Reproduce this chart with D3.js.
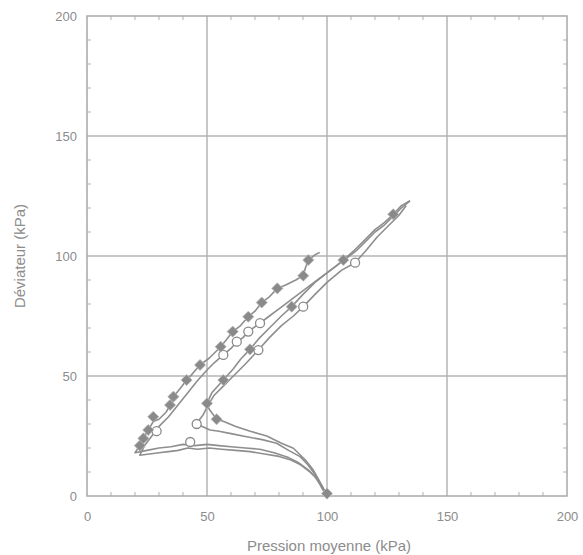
<!DOCTYPE html>
<html>
<head>
<meta charset="utf-8">
<script src="https://cdn.jsdelivr.net/npm/d3@7"></script>
<style>
  html, body { margin: 0; padding: 0; background: #fff; }
  svg { display: block; }
  text { font-family: "Liberation Sans", Arial, sans-serif; fill: #8c8c8c; }
</style>
</head>
<body>
<svg id="chart" width="583" height="555"></svg>
<script>
// Stress paths: mean pressure p (kPa) vs deviator q (kPa)
const xTicks = [0, 50, 100, 150, 200];
const yTicks = [0, 50, 100, 150, 200];

// Test 1 – unloads to low p, then rises along the steep line
const path1 = [[100,0],[99,2],[97,5],[95,8],[92,11],[88,14],[84,16],[78,18],[72,19.5],[66,20],[60,20.5],[55,21],[50,21.5],[45,21],[40,21.5],[35,20.5],[30,20],[25,19],[20,18],
  [22,21],[23.5,24],[25.5,27.5],[27.6,31],[30,32],[33,35],[34.6,37.9],[36,41.4],[39,45],[41.5,48.3],[44,51],[47.1,54.6],[51,57.5],[55.7,62.2],[58,65],[60.7,68.5],[64,71],[67.2,74.7],[70,77],[72.8,80.6],[76,83],[79.3,86.5],[83,88],[87,90],[90.1,91.8],[91,95],[92.2,98.3],[95,100.5],[97,101.5]];
const marks1 = [[100,1],[22,21],[23.5,24],[25.5,27.5],[27.6,33],[34.6,37.9],[36,41.4],[41.5,48.3],[47.1,54.6],[55.7,62.2],[60.7,68.5],[67.2,74.7],[72.8,80.6],[79.3,86.5],[90.1,91.8],[92.2,98.3]];

// Test 2 – lowest unloading branch, then just below the steep line
const path2 = [[100,0],[98,4],[96,7],[93,10],[89,13],[85,15],[80,16.5],[74,17.5],[68,18.5],[62,19],[56,19.5],[51,20],[46,19.5],[42,20],[38,19],[34,18.5],[30,18],[26,17.5],[22,17],
  [24,21],[27,25],[30,29],[34,33],[38,38],[42,43],[46,48],[50,52.5],[53,55.5],[56.8,58.8],[60,61.5],[62.4,64.3],[65,66],[67.2,68.5],[72.1,72],[76,75],[80,78],[84,81],[88,84],[92,87],[96,90],[100,93],[104,96],[108,99],[112,102],[116,106],[120,110],[124,113],[128,117],[131,120],[134.6,123]];
const marks2 = [[29,27],[43,22.5],[56.8,58.8],[62.4,64.3],[67.2,68.5],[72.1,72]];

// Test 3 – upper unloading branch, then along the flatter line
const path3 = [[100,0],[99.2,1.8],[97,6],[94.3,10.8],[91,15],[86,19.9],[81,22],[74.9,25],[68,27],[62,29],[57,31],[54,32],[51,36],[50,38.6],[52,43],[56.8,48.3],[61,53],[64,57],[67.9,61.1],[72,66],[76,70],[81,75],[85.3,78.9],[90,84],[95,89],[100,93],[104,96],[106.8,98.3],[111,102],[116,107],[120,111],[124,114],[127.6,117.4],[131,121],[134.6,123]];
const marks3 = [[54,32],[50,38.6],[56.8,48.3],[67.9,61.1],[85.3,78.9],[106.8,98.3],[127.6,117.4]];

// Test 4 – second upper unloading branch, then just right of the flatter line
const path4 = [[100,0],[98,3],[95.7,8],[92,13],[88.8,16.4],[84,19],[79,22],[73,23.5],[66.5,24.7],[60,26],[55,27],[51.3,27.5],[48,29],[45.7,30],[47,32],[48.5,34],[50,37],[53,42],[57,46],[61,50],[66,55],[71.4,60.8],[76,66],[81,71],[86,75],[90.1,78.9],[95,84],[100,89],[106,94],[111.7,97.2],[116,102],[121,108],[126,113],[130,117],[133,121]];
const marks4 = [[45.7,30],[71.4,60.8],[90.1,78.9],[111.7,97.2]];

const series = [
  {path: path1, marks: marks1, shape: "diamond"},
  {path: path2, marks: marks2, shape: "circle"},
  {path: path3, marks: marks3, shape: "diamond"},
  {path: path4, marks: marks4, shape: "circle"}
];

const svg = d3.select("#chart");
const margin = {left: 87, top: 16, right: 16, bottom: 59};
const W = 583 - margin.left - margin.right;
const H = 555 - margin.top - margin.bottom;

const x = d3.scaleLinear().domain([0, 200]).range([0, W]);
const y = d3.scaleLinear().domain([0, 200]).range([H, 0]);

const g = svg.append("g").attr("transform", `translate(${margin.left},${margin.top})`);

const gridColor = "#b4b4b4";
const minor = d3.range(10, 200, 10).filter(v => v % 50 !== 0);

// major grid lines
g.append("g").selectAll("line").data(xTicks.slice(1, -1)).join("line")
  .attr("x1", d => x(d)).attr("x2", d => x(d)).attr("y1", 0).attr("y2", H)
  .attr("stroke", gridColor).attr("stroke-width", 1.5);
g.append("g").selectAll("line").data(yTicks.slice(1, -1)).join("line")
  .attr("y1", d => y(d)).attr("y2", d => y(d)).attr("x1", 0).attr("x2", W)
  .attr("stroke", gridColor).attr("stroke-width", 1.5);

// inner minor ticks on all four sides
const tl = 4;
const tickG = g.append("g").attr("stroke", "#bdbdbd").attr("stroke-width", 1.2);
tickG.selectAll(".tb").data(minor).join("line").attr("class", "tb")
  .attr("x1", d => x(d)).attr("x2", d => x(d)).attr("y1", H).attr("y2", H - tl);
tickG.selectAll(".tt").data(minor).join("line").attr("class", "tt")
  .attr("x1", d => x(d)).attr("x2", d => x(d)).attr("y1", 0).attr("y2", tl);
tickG.selectAll(".tl").data(minor).join("line").attr("class", "tl")
  .attr("y1", d => y(d)).attr("y2", d => y(d)).attr("x1", 0).attr("x2", tl);
tickG.selectAll(".tr").data(minor).join("line").attr("class", "tr")
  .attr("y1", d => y(d)).attr("y2", d => y(d)).attr("x1", W).attr("x2", W - tl);

// frame
g.append("rect").attr("width", W).attr("height", H)
  .attr("fill", "none").attr("stroke", "#a8a8a8").attr("stroke-width", 1.5);

// tick labels via d3 axes (text only)
const xAxis = g.append("g").attr("transform", `translate(0,${H})`)
  .call(d3.axisBottom(x).tickValues(xTicks).tickSize(0).tickPadding(16));
const yAxis = g.append("g")
  .call(d3.axisLeft(y).tickValues(yTicks).tickSize(0).tickPadding(10));
[xAxis, yAxis].forEach(a => {
  a.select(".domain").remove();
  a.selectAll("text").attr("fill", "#8c8c8c").style("font-size", "13px")
    .style("font-family", "'Liberation Sans', Arial, sans-serif");
});

// stress paths
const line = d3.line().x(d => x(d[0])).y(d => y(d[1]));
const markColor = "#8a8a8a";
series.forEach(s => {
  g.append("path").datum(s.path).attr("d", line)
    .attr("fill", "none").attr("stroke", "#8e8e8e").attr("stroke-width", 1.6)
    .attr("stroke-linejoin", "round");
});
// open circles first, filled diamonds on top
series.filter(s => s.shape === "circle").forEach(s => {
  g.append("g").selectAll("circle").data(s.marks).join("circle")
    .attr("cx", d => x(d[0])).attr("cy", d => y(d[1])).attr("r", 4.5)
    .attr("fill", "#fff").attr("stroke", markColor).attr("stroke-width", 1.3);
});
series.filter(s => s.shape === "diamond").forEach(s => {
  g.append("g").selectAll("path").data(s.marks).join("path")
    .attr("d", d3.symbol(d3.symbolDiamond2, 78))
    .attr("transform", d => `translate(${x(d[0])},${y(d[1])})`)
    .attr("fill", markColor).attr("stroke", "#b8b8b8").attr("stroke-width", 0.8);
});

// axis titles
svg.append("text").attr("x", margin.left + W / 2 + 2).attr("y", 551)
  .attr("text-anchor", "middle").style("font-size", "15px")
  .text("Pression moyenne (kPa)");
svg.append("text")
  .attr("transform", `translate(25,${margin.top + H / 2}) rotate(-90)`)
  .attr("text-anchor", "middle").style("font-size", "15px")
  .text("Déviateur (kPa)");
</script>
</body>
</html>
